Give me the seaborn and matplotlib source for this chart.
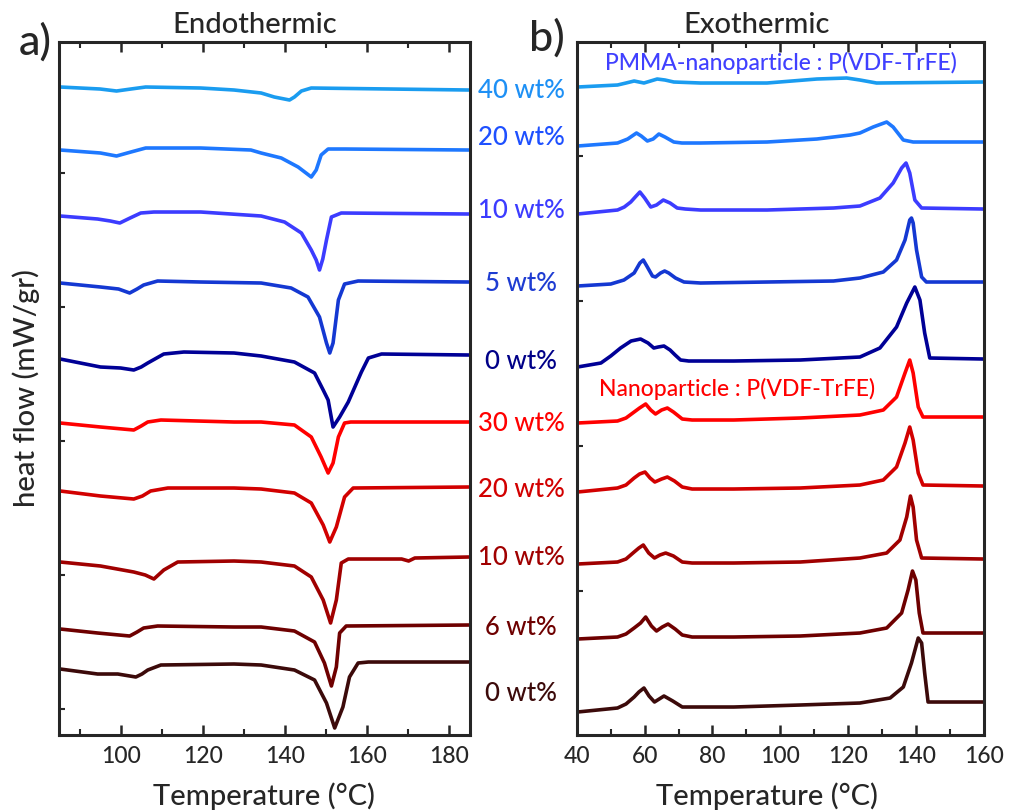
import matplotlib
matplotlib.use('Agg')
import matplotlib.pyplot as plt
import seaborn as sns
import numpy as np
import pandas as pd
from matplotlib.ticker import MultipleLocator

sns.set_style('ticks')
plt.rcParams['font.family'] = ['Lato', 'DejaVu Sans']
plt.rcParams['font.weight'] = 'medium'

# ---- panel a) endothermic: temperature (C) / heat flow (a.u., stacked) ----
endo_pm40_t = [85.3, 95.0, 99.0, 102.5, 106.1, 119.5, 127.6, 134.2, 137.4, 141.1, 142.3, 144.0, 146.4, 184.7]
endo_pm40_hf = [622, 620, 618, 620, 622, 621, 619, 616, 612, 609, 612, 618, 621, 619]
endo_pm20_t = [85.3, 95.1, 99.0, 102.5, 106.1, 119.5, 131.7, 134.2, 139.1, 143.2, 146.4, 147.6, 148.8, 150.5, 154.5, 184.7]
endo_pm20_hf = [559, 556, 553, 557, 561, 561, 559, 556, 551, 542, 532, 539, 554, 560, 560, 559]
endo_pm10_t = [85.3, 94.4, 97.5, 99.8, 102.3, 104.9, 108.1, 119.5, 134.2, 139.9, 144.0, 146.4, 147.6, 148.4,
               149.2, 150.1, 151.3, 153.7, 184.7]
endo_pm10_hf = [493, 490, 488, 486, 491, 496, 497, 497, 493, 487, 476, 459, 449, 439, 450, 469, 492, 496, 495]
endo_pm5_t = [85.3, 95.1, 99.5, 102.2, 104.0, 105.6, 109.0, 119.5, 134.2, 141.5, 145.6, 148.4, 150.1, 150.9,
              151.7, 153.0, 154.5, 157.8, 184.7]
endo_pm5_hf = [426, 422, 420, 416, 420, 424, 428, 427, 426, 421, 412, 392, 366, 356, 366, 409, 425, 428, 427]
endo_pm0_t = [85.3, 95.1, 100.0, 103.2, 105.0, 106.6, 110.5, 115.4, 127.6, 134.2, 142.3, 147.2, 149.3, 150.5,
              151.7, 153.3, 155.4, 157.0, 158.6, 160.3, 163.5, 184.7]
endo_pm0_hf = [350, 342, 341, 339, 342, 346, 355, 357, 356, 353, 347, 336, 319, 309, 282, 292, 307, 322, 337,
               351, 355, 354]
endo_np30_t = [85.3, 95.1, 103.2, 105.0, 106.6, 109.8, 127.6, 134.2, 142.3, 146.4, 148.8, 150.5, 151.7, 153.0,
               154.5, 156.0, 184.7]
endo_np30_hf = [286, 282, 279, 283, 287, 289, 287, 287, 284, 272, 252, 236, 246, 272, 286, 287, 287]
endo_np20_t = [85.3, 95.1, 103.2, 105.3, 107.3, 111.5, 127.6, 134.2, 142.3, 146.4, 149.3, 150.9, 152.5, 154.5,
               156.6, 184.7]
endo_np20_hf = [218, 213, 210, 213, 218, 221, 221, 220, 216, 206, 184, 167, 182, 212, 221, 222]
endo_np10_t = [85.3, 95.1, 103.2, 106.0, 108.1, 110.5, 113.9, 127.6, 134.2, 142.3, 146.4, 149.3, 151.1, 152.5,
               153.7, 155.4, 168.4, 170.1, 171.6, 184.7]
endo_np10_hf = [147, 143, 137, 134, 130, 139, 147, 148, 147, 143, 132, 109, 86, 109, 146, 150, 150, 148, 151, 152]
endo_np6_t = [85.3, 94.4, 102.2, 104.0, 105.6, 109.0, 127.6, 134.2, 142.3, 147.2, 149.6, 151.3, 152.5, 153.3,
              154.9, 184.7]
endo_np6_hf = [80, 76, 73, 77, 81, 83, 82, 82, 78, 67, 46, 23, 42, 76, 83, 84]
endo_np0_t = [85.3, 94.4, 99.3, 103.7, 105.2, 106.6, 109.8, 127.6, 134.2, 142.3, 147.2, 150.1, 152.1, 154.1,
              155.7, 157.8, 160.3, 184.7]
endo_np0_hf = [40, 35, 35, 32, 35, 39, 44, 45, 44, 39, 29, 6, -19, 2, 32, 46, 47, 47]

# ---- panel b) exothermic ----
exo_pm40_t = [40.2, 52.0, 54.5, 56.9, 59.8, 63.7, 66.0, 68.6, 76.5, 96.1, 110.8, 119.6, 123.5, 128.4, 159.8]
exo_pm40_hf = [649, 651, 653, 655, 653, 657, 656, 654, 653, 653, 657, 658, 656, 653, 654]
exo_pm20_t = [40.2, 52.0, 55.0, 57.6, 59.0, 60.8, 62.5, 64.2, 66.0, 68.6, 71.0, 76.5, 96.1, 110.8, 120.6, 123.5,
              127.4, 131.4, 133.3, 136.3, 139.2, 159.8]
exo_pm20_hf = [590, 593, 597, 603, 600, 595, 597, 602, 599, 594, 593, 593, 594, 597, 601, 603, 609, 614, 609,
               596, 594, 594]
exo_pm10_t = [40.2, 52.0, 54.0, 55.9, 57.5, 58.6, 60.0, 61.8, 63.5, 65.5, 67.5, 69.6, 72.0, 76.5, 96.1, 115.7,
              123.5, 129.4, 133.3, 135.8, 137.1, 138.2, 139.7, 141.7, 159.8]
exo_pm10_hf = [522, 526, 529, 534, 540, 544, 538, 529, 531, 536, 533, 528, 527, 526, 526, 528, 530, 538, 553,
               568, 573, 563, 536, 528, 527]
exo_pm5_t = [40.2, 50.0, 53.9, 56.9, 58.6, 59.6, 60.8, 62.3, 63.2, 64.7, 65.9, 67.1, 69.1, 71.6, 76.5, 96.1,
             115.7, 123.5, 130.4, 134.3, 136.8, 138.2, 138.7, 139.2, 140.2, 141.7, 143.1, 159.8]
exo_pm5_hf = [450, 452, 456, 463, 473, 476, 469, 460, 459, 463, 465, 463, 458, 454, 453, 454, 455, 458, 464,
              476, 496, 516, 518, 513, 486, 459, 454, 454]
exo_pm0_t = [40.2, 47.1, 50.0, 52.9, 56.0, 58.8, 61.0, 62.7, 64.0, 65.7, 67.5, 69.0, 70.6, 73.0, 86.3, 105.9,
             123.5, 129.4, 134.3, 137.3, 139.7, 141.2, 142.6, 144.1, 159.8]
exo_pm0_hf = [369, 373, 380, 388, 395, 397, 393, 388, 389, 390, 386, 381, 376, 375, 375, 376, 379, 388, 409,
              433, 449, 436, 403, 378, 377]
exo_np30_t = [40.2, 52.0, 54.5, 56.9, 58.5, 60.3, 61.8, 63.2, 65.0, 66.7, 68.5, 71.1, 74.0, 86.3, 105.9, 123.5,
              130.4, 134.3, 136.8, 138.2, 139.2, 140.7, 142.1, 159.8]
exo_np30_hf = [313, 315, 318, 324, 328, 332, 326, 322, 326, 328, 324, 317, 316, 316, 318, 321, 326, 339, 363,
               376, 363, 329, 319, 319]
exo_np20_t = [40.2, 52.0, 54.5, 56.9, 58.5, 60.1, 61.6, 63.0, 65.0, 66.7, 68.8, 71.1, 74.0, 86.3, 105.9, 123.5,
              130.4, 134.3, 136.8, 138.2, 139.2, 140.7, 142.1, 159.8]
exo_np20_hf = [244, 248, 251, 258, 262, 264, 258, 254, 257, 259, 255, 249, 247, 247, 248, 251, 256, 269, 293,
               309, 296, 263, 251, 250]
exo_np10_t = [40.2, 52.0, 54.5, 56.9, 58.3, 59.6, 61.2, 62.9, 64.5, 66.2, 68.5, 71.1, 74.0, 86.3, 105.9, 123.5,
              131.4, 135.3, 137.3, 138.4, 139.2, 140.2, 141.7, 159.8]
exo_np10_hf = [172, 174, 177, 184, 188, 191, 183, 178, 181, 183, 180, 174, 173, 173, 174, 178, 183, 196, 219,
               240, 229, 196, 178, 177]
exo_np6_t = [40.2, 52.0, 54.5, 56.9, 58.8, 60.3, 62.0, 63.5, 65.2, 66.9, 69.0, 71.1, 74.0, 86.3, 105.9, 123.5,
             131.4, 135.8, 137.7, 139.0, 140.0, 141.0, 142.1, 159.8]
exo_np6_hf = [97, 99, 102, 108, 113, 119, 110, 105, 109, 112, 107, 101, 99, 99, 100, 103, 108, 123, 146, 165,
              156, 123, 103, 103]
exo_np0_t = [40.2, 52.0, 54.5, 56.9, 58.3, 59.8, 61.3, 62.9, 64.3, 65.7, 68.3, 71.1, 74.0, 86.3, 105.9, 123.5,
             132.4, 136.3, 138.7, 140.7, 141.7, 142.6, 143.6, 159.8]
exo_np0_hf = [24, 28, 32, 39, 44, 48, 40, 34, 37, 40, 35, 29, 29, 29, 31, 33, 38, 49, 73, 98, 93, 63, 34, 34]

wt_labels = ['40 wt%', '20 wt%', '10 wt%', '5 wt%', '0 wt%',
             '30 wt%', '20 wt%', '10 wt%', '6 wt%', '0 wt%']
line_colors = ['#1a9cf0', '#1e78ff', '#3c3cff', '#1438d2', '#000096',
               '#ff0000', '#d20000', '#a00000', '#6e0000', '#3c0a0a']
label_colors = ['#1e90f5', '#1e50ff', '#3c3cff', '#1e3cd2', '#000088',
                '#ff0000', '#d20000', '#a00000', '#6e0000', '#3c0a0a']

endo = [(endo_pm40_t, endo_pm40_hf), (endo_pm20_t, endo_pm20_hf), (endo_pm10_t, endo_pm10_hf),
        (endo_pm5_t, endo_pm5_hf), (endo_pm0_t, endo_pm0_hf), (endo_np30_t, endo_np30_hf),
        (endo_np20_t, endo_np20_hf), (endo_np10_t, endo_np10_hf), (endo_np6_t, endo_np6_hf),
        (endo_np0_t, endo_np0_hf)]
exo = [(exo_pm40_t, exo_pm40_hf), (exo_pm20_t, exo_pm20_hf), (exo_pm10_t, exo_pm10_hf),
       (exo_pm5_t, exo_pm5_hf), (exo_pm0_t, exo_pm0_hf), (exo_np30_t, exo_np30_hf),
       (exo_np20_t, exo_np20_hf), (exo_np10_t, exo_np10_hf), (exo_np6_t, exo_np6_hf),
       (exo_np0_t, exo_np0_hf)]

fig = plt.figure(figsize=(10.12, 8.11), dpi=100)
ax1 = fig.add_axes([0.0583, 0.0937, 0.406, 0.8545])
ax2 = fig.add_axes([0.570, 0.0937, 0.402, 0.8545])

for ax, curves in [(ax1, endo), (ax2, exo)]:
    for (t, hf), c in zip(curves, line_colors):
        df = pd.DataFrame({'T': t, 'hf': hf})
        sns.lineplot(data=df, x='T', y='hf', ax=ax, color=c, lw=2.6, sort=False,
                     estimator=None, solid_joinstyle='round', solid_capstyle='round')

ax1.set_xlim(85, 185)
ax1.set_ylim(-26, 667)
ax1.set_yticks(np.arange(0, 600, 134))
ax1.xaxis.set_major_locator(MultipleLocator(20))
ax1.xaxis.set_minor_locator(MultipleLocator(10))

ax2.set_xlim(40, 160)
ax2.set_ylim(1, 694)
ax2.set_yticks(np.arange(145, 600, 145))
ax2.xaxis.set_major_locator(MultipleLocator(20))
ax2.xaxis.set_minor_locator(MultipleLocator(10))

for ax in [ax1, ax2]:
    for s in ax.spines.values():
        s.set_visible(True)
        s.set_linewidth(2.2)
    ax.tick_params(axis='x', which='major', direction='in', top=True, length=7, width=1.8,
                   labelsize=16.5, pad=8)
    ax.tick_params(axis='x', which='minor', direction='in', top=True, length=4, width=1.5)
    ax.tick_params(axis='y', which='major', direction='in', length=4, width=1.5, labelleft=False)
    ax.set_xlabel('')
    ax.set_ylabel('')

ax2.text(100.3, 673, 'PMMA-nanoparticle : P(VDF-TrFE)', color='#4040ff', fontsize=16.5,
         ha='center', va='center')
ax2.text(87.4, 347, 'Nanoparticle : P(VDF-TrFE)', color='#ff0000', fontsize=16.5,
         ha='center', va='center')

label_y = [0.889, 0.830, 0.741, 0.651, 0.554, 0.478, 0.396, 0.312, 0.226, 0.145]
for lab, c, y in zip(wt_labels, label_colors, label_y):
    fig.text(0.515, y, lab, color=c, fontsize=18.5, ha='center', va='center')

fig.text(0.252, 0.969, 'Endothermic', fontsize=21, ha='center', va='center')
fig.text(0.748, 0.969, 'Exothermic', fontsize=21, ha='center', va='center')
fig.text(0.035, 0.948, 'a)', fontsize=31, ha='center', va='center')
fig.text(0.540, 0.953, 'b)', fontsize=31, ha='center', va='center')
fig.text(0.026, 0.522, 'heat flow (mW/gr)', fontsize=21, rotation=90, ha='center', va='center')
fig.text(0.261, 0.008, 'Temperature (°C)', fontsize=21, ha='center', va='baseline')
fig.text(0.758, 0.008, 'Temperature (°C)', fontsize=21, ha='center', va='baseline')

fig.savefig('out.png', dpi=100)
